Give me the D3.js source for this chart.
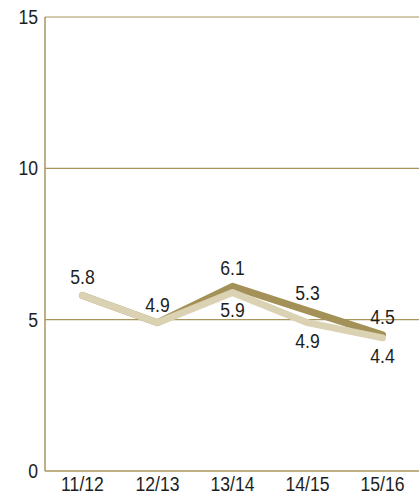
<!DOCTYPE html>
<html><head><meta charset="utf-8">
<script src="https://cdn.jsdelivr.net/npm/d3@7"></script>
<style>body{margin:0;background:#fff}svg{display:block}text{font-family:"Liberation Sans",Arial,sans-serif;fill:#1e1e1e}</style>
</head><body><svg id="c" width="419" height="496"></svg>
<script>
const categories = ["11/12","12/13","13/14","14/15","15/16"];
const darkValues = [5.8, 4.9, 6.1, 5.3, 4.5];
const lightValues = [5.8, 4.9, 5.9, 4.9, 4.4];
const darkLabelShow = [true, true, true, true, true];
const lightLabelShow = [false, false, true, true, true];
const yTicks = [0, 5, 10, 15];

const svg = d3.select("#c");
const m = {l:45, r:0, t:17, b:25};
const W = 419, H = 496;
const x = d3.scalePoint().domain(categories).range([82.5, 382.5]);
const y = d3.scaleLinear().domain([0,15]).range([H-m.b, m.t]);
const axisCol = "#a8965e";
const FS = 21, SX = 0.84;
const tr = (px,py)=>`translate(${px},${py}) scale(${SX},1)`;

// grid
svg.append("g").selectAll("line").data(yTicks.filter(d=>d>0)).join("line")
  .attr("x1", m.l).attr("x2", W).attr("y1", d=>y(d)).attr("y2", d=>y(d))
  .attr("stroke", axisCol).attr("stroke-width", 1.2);
// axes lines
svg.append("line").attr("x1", m.l).attr("x2", m.l).attr("y1", y(15)).attr("y2", y(0)).attr("stroke", axisCol).attr("stroke-width", 1.5);
svg.append("line").attr("x1", m.l).attr("x2", W).attr("y1", y(0)).attr("y2", y(0)).attr("stroke", axisCol).attr("stroke-width", 1.5);

// y tick labels
svg.append("g").selectAll("text").data(yTicks).join("text")
  .attr("transform", d=>tr(38, y(d)+7)).attr("text-anchor","end")
  .attr("font-size", FS).text(d=>d);
// x labels
svg.append("g").selectAll("text").data(categories).join("text")
  .attr("transform", d=>tr(x(d), 491)).attr("text-anchor","middle")
  .attr("font-size", FS).text(d=>d);

const line = d3.line().x((d,i)=>x(categories[i])).y(d=>y(d));
svg.append("path").datum(darkValues).attr("d", line).attr("fill","none")
  .attr("stroke","#a39157").attr("stroke-width",7).attr("stroke-linecap","round").attr("stroke-linejoin","round");
svg.append("path").datum(lightValues).attr("d", line).attr("fill","none")
  .attr("stroke","#dbd1b3").attr("stroke-width",7).attr("stroke-linecap","round").attr("stroke-linejoin","round");

// labels
svg.append("g").selectAll("text").data(darkValues.map((v,i)=>({v,i})).filter(d=>darkLabelShow[d.i])).join("text")
  .attr("transform", d=>tr(x(categories[d.i]), y(d.v)-11)).attr("text-anchor","middle")
  .attr("font-size",FS).text(d=>d.v.toFixed(1));
svg.append("g").selectAll("text").data(lightValues.map((v,i)=>({v,i})).filter(d=>lightLabelShow[d.i])).join("text")
  .attr("transform", d=>tr(x(categories[d.i]), y(d.v)+25)).attr("text-anchor","middle")
  .attr("font-size",FS).text(d=>d.v.toFixed(1));
</script></body></html>
